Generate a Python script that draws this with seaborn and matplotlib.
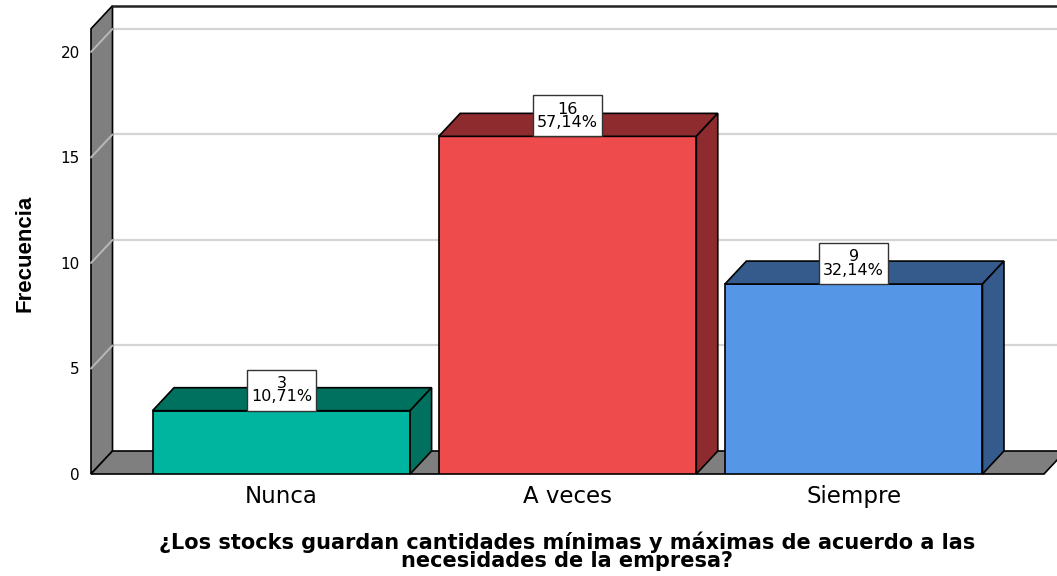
import numpy as np
import pandas as pd
import matplotlib
matplotlib.use("Agg")
import matplotlib.pyplot as plt
import seaborn as sns
from matplotlib.patches import Polygon, Rectangle

# ---------------- data ----------------
categories = ["Nunca", "A veces", "Siempre"]
frequencies = [3, 16, 9]
percent_labels = ["10,71%", "57,14%", "32,14%"]
yticks = [0, 5, 10, 15, 20]
front_colors = ["#00B5A0", "#EE4B4D", "#5596E6"]
shade_colors = ["#00705F", "#8E2B2E", "#355B8D"]
x_title = "¿Los stocks guardan cantidades mínimas y máximas de acuerdo a las\nnecesidades de la empresa?"
y_title = "Frecuencia"

# ---------------- style ----------------
sns.set_theme(style="white")
plt.rcParams["font.family"] = ["DejaVu Sans"]

W_PX, H_PX = 1057, 576
fig = plt.figure(figsize=(W_PX / 100, H_PX / 100), dpi=100)
ax = fig.add_axes([91 / W_PX, 102 / H_PX, 953 / W_PX, 467 / H_PX])

df = pd.DataFrame({"cat": categories, "freq": frequencies})
sns.barplot(data=df, x="cat", y="freq", hue="cat", palette=front_colors,
            saturation=1, width=0.9, edgecolor="black", linewidth=1.2,
            legend=False, ax=ax, zorder=3)

X0, X1 = -0.665, 2.665
YMAX = 22.13
ax.set_xlim(X0, X1)
ax.set_ylim(0, YMAX)
for s in ax.spines.values():
    s.set_visible(False)
ax.grid(False)

# pixel -> data conversions for the 3D depth
px_x = 953 / (X1 - X0)
px_y = 467 / YMAX
DX = 21.5 / px_x
DY = 23 / px_y
WALL_TOP = 21.1
XFAR = X1 + 1.0

wall_gray = "#7F7F7F"
grid_col = "#D4D4D4"

# back wall gridlines
for t in yticks[1:]:
    ax.plot([X0 + DX, XFAR], [t + DY, t + DY], color=grid_col, lw=1.6,
            zorder=0.5, clip_on=False, solid_capstyle="butt")

# left wall
ax.add_patch(Polygon([(X0, 0), (X0, WALL_TOP), (X0 + DX, WALL_TOP + DY), (X0 + DX, DY)],
                     closed=True, fc=wall_gray, ec="black", lw=1.2, zorder=1, clip_on=False))
for t in yticks[1:]:
    ax.plot([X0, X0 + DX], [t, t + DY], color="#B8B8B8", lw=1.4, zorder=1.5, clip_on=False)

# floor
ax.add_patch(Polygon([(X0, 0), (X1, 0), (X1 + DX, DY), (X0 + DX, DY)],
                     closed=True, fc=wall_gray, ec="black", lw=1.2, zorder=1, clip_on=False))

# top frame line of back wall
ax.plot([X0 + DX, XFAR], [WALL_TOP + DY, WALL_TOP + DY], color="#222222", lw=1.8,
        zorder=1.2, clip_on=False)

# 3D faces of bars
bars = [p for p in ax.patches if isinstance(p, Rectangle) and p.get_height() > 0][:len(categories)]
bars = sorted(bars, key=lambda p: p.get_x())
for patch, shade, val, pct in zip(bars, shade_colors, frequencies, percent_labels):
    x = patch.get_x()
    w = patch.get_width()
    h = patch.get_height()
    ax.add_patch(Polygon([(x, h), (x + DX, h + DY), (x + w + DX, h + DY), (x + w, h)],
                         closed=True, fc=shade, ec="black", lw=1.2, zorder=3.5, clip_on=False))
    ax.add_patch(Polygon([(x + w, 0), (x + w, h), (x + w + DX, h + DY), (x + w + DX, DY)],
                         closed=True, fc=shade, ec="black", lw=1.2, zorder=3.5, clip_on=False))
    cx = x + w / 2
    bw = 69 / px_x
    bh = 41 / px_y
    ax.add_patch(Rectangle((cx - bw / 2, h), bw, bh, fc="white", ec="#333333",
                           lw=1.0, zorder=5, clip_on=False))
    ax.text(cx, h + bh / 2, f"{val}\n{pct}", ha="center", va="center",
            fontsize=11.5, linespacing=0.85, color="black", zorder=6)

# ticks
ax.set_yticks(yticks)
ax.set_yticklabels([str(t) for t in yticks])
ax.tick_params(axis="y", length=0, pad=8, labelsize=11, colors="black")
ax.tick_params(axis="x", length=0, pad=8, labelsize=16.5, colors="black")

ax.set_xlabel(x_title, fontsize=15, fontweight="bold", family=["DejaVu Sans"],
              linespacing=0.88, color="black")
ax.xaxis.label.set_va("center")
ax.xaxis.set_label_coords(0.4995, -0.165)

ax.set_ylabel(y_title, fontsize=16, fontweight="bold", family=["Liberation Sans", "DejaVu Sans"],
              color="black")
ax.yaxis.label.set_va("center")
ax.yaxis.set_label_coords(-0.069, 0.473)

fig.savefig("out.png", dpi=100)
